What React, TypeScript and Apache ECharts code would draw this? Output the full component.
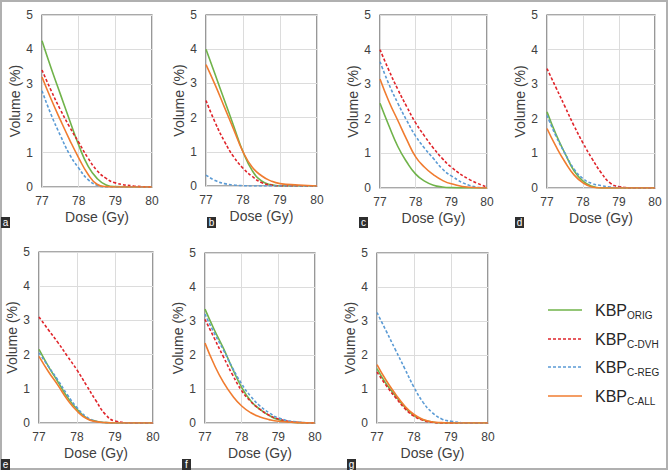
import React, { useEffect, useRef } from "react";
import * as echarts from "echarts";

const dose = [77, 77.25, 77.5, 77.75, 78, 78.25, 78.5, 78.75, 79, 79.5, 80];
const panelLabels = ["a", "b", "c", "d", "e", "f", "g"];
const xTicks = [77, 78, 79, 80];
const yTicks = [0, 1, 2, 3, 4, 5];

// KBP_ORIG
const origA = [4.25, 3.45, 2.7, 1.95, 1.22, 0.62, 0.25, 0.06, 0.01, 0, 0];
const origB = [4.0, 3.25, 2.5, 1.75, 1.0, 0.45, 0.15, 0.04, 0, 0, 0];
const origC = [2.45, 1.8, 1.2, 0.75, 0.4, 0.2, 0.08, 0.03, 0.01, 0, 0];
const origD = [2.2, 1.55, 1.0, 0.5, 0.2, 0.05, 0, 0, 0, 0, 0];
const origE = [2.15, 1.65, 1.2, 0.75, 0.4, 0.15, 0.05, 0.01, 0, 0, 0];
const origF = [3.35, 2.75, 2.2, 1.6, 1.05, 0.65, 0.4, 0.22, 0.1, 0.01, 0];
const origG = [1.6, 1.15, 0.8, 0.47, 0.22, 0.09, 0.03, 0, 0, 0, 0];

// KBP_C-DVH
const dvhA = [3.4, 2.8, 2.25, 1.75, 1.3, 0.85, 0.48, 0.25, 0.12, 0.03, 0];
const dvhB = [2.5, 1.85, 1.3, 0.85, 0.52, 0.28, 0.1, 0.03, 0, 0, 0];
const dvhC = [4.0, 3.4, 2.85, 2.35, 1.88, 1.5, 1.15, 0.85, 0.6, 0.25, 0.03];
const dvhD = [3.45, 2.9, 2.35, 1.8, 1.3, 0.85, 0.45, 0.15, 0.04, 0, 0];
const dvhE = [3.1, 2.72, 2.35, 1.95, 1.55, 1.1, 0.65, 0.25, 0.06, 0, 0];
const dvhF = [3.05, 2.5, 1.95, 1.42, 0.95, 0.63, 0.4, 0.23, 0.12, 0.02, 0];
const dvhG = [1.5, 1.1, 0.75, 0.43, 0.2, 0.08, 0.02, 0, 0, 0, 0];

// KBP_C-REG
const regA = [2.8, 2.1, 1.5, 0.95, 0.55, 0.22, 0.05, 0, 0, 0, 0];
const regB = [0.32, 0.16, 0.07, 0.03, 0.01, 0, 0, 0, 0, 0, 0];
const regC = [3.65, 3.0, 2.45, 1.95, 1.5, 1.15, 0.85, 0.55, 0.35, 0.08, 0];
const regD = [2.1, 1.5, 1.0, 0.55, 0.27, 0.13, 0.07, 0.03, 0.01, 0, 0];
const regE = [2.05, 1.65, 1.25, 0.82, 0.45, 0.18, 0.05, 0.01, 0, 0, 0];
const regF = [3.2, 2.65, 2.15, 1.62, 1.15, 0.78, 0.5, 0.3, 0.15, 0.03, 0];
const regG = [3.25, 2.7, 2.15, 1.6, 1.05, 0.6, 0.3, 0.12, 0.05, 0, 0];

// KBP_C-ALL
const allA = [3.2, 2.55, 1.95, 1.38, 0.85, 0.38, 0.08, 0.01, 0, 0, 0];
const allB = [3.55, 2.95, 2.3, 1.65, 1.0, 0.55, 0.3, 0.15, 0.07, 0.03, 0];
const allC = [3.15, 2.5, 1.95, 1.4, 0.9, 0.6, 0.38, 0.22, 0.12, 0.02, 0];
const allD = [1.72, 1.2, 0.75, 0.38, 0.15, 0.03, 0, 0, 0, 0, 0];
const allE = [1.95, 1.5, 1.1, 0.68, 0.35, 0.13, 0.04, 0.01, 0, 0, 0];
const allF = [2.35, 1.72, 1.2, 0.8, 0.5, 0.3, 0.18, 0.1, 0.05, 0.01, 0];
const allG = [1.72, 1.25, 0.85, 0.5, 0.25, 0.1, 0.03, 0.01, 0, 0, 0];

const seriesNames = ["KBP_ORIG", "KBP_C-DVH", "KBP_C-REG", "KBP_C-ALL"];
const legendMain = ["KBP", "KBP", "KBP", "KBP"];
const legendSub = ["ORIG", "C-DVH", "C-REG", "C-ALL"];

const panelData = [
  [origA, dvhA, regA, allA],
  [origB, dvhB, regB, allB],
  [origC, dvhC, regC, allC],
  [origD, dvhD, regD, allD],
  [origE, dvhE, regE, allE],
  [origF, dvhF, regF, allF],
  [origG, dvhG, regG, allG],
];

const colors = ["#70b34a", "#e0252b", "#5b9bd5", "#f07c30"];
const dashed = [false, true, true, false];

// layout
const grids = [
  { left: 42, top: 15, width: 110, height: 172 },
  { left: 206, top: 15, width: 111, height: 171 },
  { left: 380, top: 15, width: 107, height: 173 },
  { left: 547, top: 15, width: 108, height: 173 },
  { left: 39, top: 252, width: 114, height: 171 },
  { left: 205, top: 253, width: 110, height: 170 },
  { left: 377, top: 253, width: 111, height: 170 },
];
const labelBoxes = [
  [1, 217], [207, 217], [359, 217], [515, 217],
  [1, 459], [182, 459], [347, 459],
];

export default function App() {
  const ref = useRef<HTMLDivElement>(null);
  useEffect(() => {
    document.body.style.margin = "0";
    const chart = echarts.init(ref.current!, undefined, { renderer: "svg" });
    const textColor = "#404040";
    const font = "Liberation Sans, Arial, sans-serif";

    const series: any[] = [];
    panelData.forEach((group, p) => {
      group.forEach((vals, s) => {
        series.push({
          name: seriesNames[s],
          type: "line",
          xAxisIndex: p,
          yAxisIndex: p,
          data: dose.map((d, j) => [d, vals[j]]),
          showSymbol: false,
          smooth: 0.5,
          lineStyle: {
            color: colors[s],
            width: 1.6,
            type: dashed[s] ? [3, 2] : "solid",
          },
          z: 3 + s,
        });
      });
    });

    const graphics: any[] = [
      {
        type: "rect",
        shape: { x: 1, y: 1, width: 666, height: 468 },
        style: { fill: "none", stroke: "#b0b0b0", lineWidth: 2 },
        silent: true,
      },
    ];
    labelBoxes.forEach(([x, y], i) => {
      graphics.push({
        type: "rect",
        shape: { x, y, width: 9, height: 11 },
        style: { fill: "#2e2e2e" },
      });
      graphics.push({
        type: "text",
        x: x + 4.5,
        y: y + 5.5,
        style: {
          text: panelLabels[i],
          fill: "#ffffff",
          font: `10px ${font}`,
          align: "center",
          verticalAlign: "middle",
        },
      });
    });
    const legendY = [310, 339, 367, 396];
    legendY.forEach((y, i) => {
      graphics.push({
        type: "line",
        shape: { x1: 548, y1: y, x2: 582, y2: y },
        style: {
          stroke: colors[i],
          lineWidth: 1.6,
          lineDash: dashed[i] ? [3, 2] : null,
        },
      });
      graphics.push({
        type: "text",
        x: 595,
        y: y,
        style: {
          text: legendMain[i],
          fill: "#262626",
          font: `16px ${font}`,
          verticalAlign: "middle",
        },
      });
      graphics.push({
        type: "text",
        x: 627,
        y: y + 5,
        style: {
          text: legendSub[i],
          fill: "#262626",
          font: `10px ${font}`,
          verticalAlign: "middle",
        },
      });
    });

    chart.setOption({
      animation: false,
      backgroundColor: "#ffffff",
      textStyle: { fontFamily: font },
      grid: grids.map((g) => ({
        ...g,
        show: true,
        borderColor: "#555555",
        borderWidth: 1.2,
        backgroundColor: "transparent",
        containLabel: false,
      })),
      xAxis: grids.map((_, i) => ({
        type: "value",
        gridIndex: i,
        min: xTicks[0],
        max: xTicks[xTicks.length - 1],
        interval: 1,
        name: "Dose (Gy)",
        nameLocation: "middle",
        nameGap: 23,
        nameTextStyle: { fontSize: 14, color: textColor, fontFamily: font },
        axisLine: { show: false },
        axisTick: { show: false },
        axisLabel: { fontSize: 12, color: textColor, margin: 8, fontFamily: font },
        splitLine: { show: true, lineStyle: { color: "#dcdcdc", width: 1 } },
      })),
      yAxis: grids.map((_, i) => ({
        type: "value",
        gridIndex: i,
        min: yTicks[0],
        max: yTicks[yTicks.length - 1],
        interval: 1,
        name: "Volume (%)",
        nameLocation: "middle",
        nameGap: 20,
        nameRotate: 90,
        nameTextStyle: { fontSize: 14, color: textColor, fontFamily: font },
        axisLine: { show: false },
        axisTick: { show: false },
        axisLabel: { fontSize: 12, color: textColor, margin: 9, fontFamily: font },
        splitLine: { show: true, lineStyle: { color: "#dcdcdc", width: 1 } },
      })),
      series,
      graphic: graphics,
    });
    return () => chart.dispose();
  }, []);
  return <div ref={ref} style={{ width: 669, height: 471 }} />;
}
